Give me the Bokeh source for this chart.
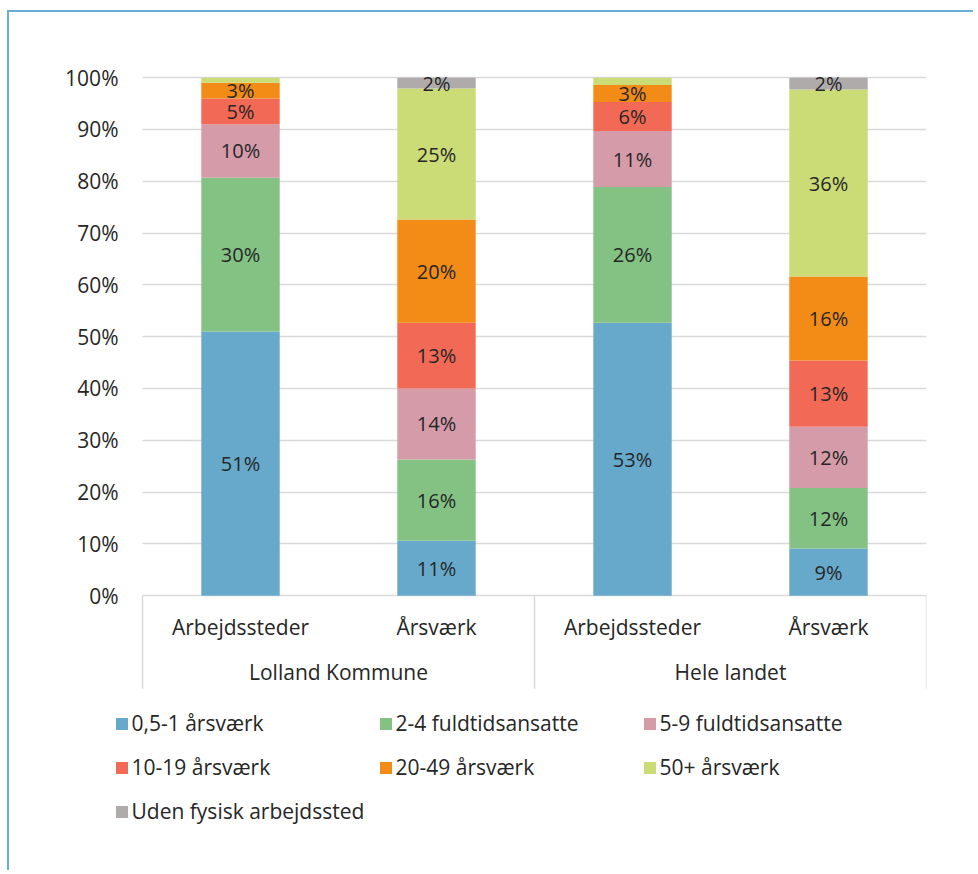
from bokeh.plotting import figure
from bokeh.models import (ColumnDataSource, Range1d, LinearAxis, FixedTicker, Grid,
                          Legend, LegendItem)
from bokeh.core.properties import value
from bokeh.embed import file_html
from bokeh.resources import INLINE

# ---------------- data ----------------
groups = ["Lolland Kommune", "Hele landet"]
measures = ["Arbejdssteder", "Årsværk"]
series = ["0,5-1 årsværk", "2-4 fuldtidsansatte", "5-9 fuldtidsansatte",
          "10-19 årsværk", "20-49 årsværk", "50+ årsværk", "Uden fysisk arbejdssted"]
colors = ["#67a9cb", "#84c284", "#d59ba9", "#f26a55", "#f28c16", "#cbdb76", "#afabab"]

# percent shares per bar: Lolland/Arbejdssteder, Lolland/Årsværk, Hele/Arbejdssteder, Hele/Årsværk
v_05_1 = [51.0, 10.6, 52.7, 9.1]
v_2_4 = [29.7, 15.7, 26.2, 11.7]
v_5_9 = [10.3, 13.7, 10.8, 11.8]
v_10_19 = [5.0, 12.7, 5.6, 12.8]
v_20_49 = [3.0, 19.9, 3.3, 16.2]
v_50 = [1.0, 25.3, 1.4, 36.1]
v_uden = [0.0, 2.1, 0.0, 2.3]
series_values = [v_05_1, v_2_4, v_5_9, v_10_19, v_20_49, v_50, v_uden]

y_ticks = [0, 10, 20, 30, 40, 50, 60, 70, 80, 90, 100]
y_tick_labels = ["0%", "10%", "20%", "30%", "40%", "50%", "60%", "70%", "80%", "90%", "100%"]

# ---------------- layout constants (canvas pixels) ----------------
W, H = 966, 860
FRAME_L, FRAME_R, FRAME_T, FRAME_B = 91, 917, 60, 860
PLOT_L = 133                 # pixel of the category axis start (x = 0)
PX_PER_CAT = (FRAME_R - PLOT_L) / 4.0
PX_PER_PCT = 5.18
Y_END = 101.0
Y_START = Y_END - (FRAME_B - FRAME_T) / PX_PER_PCT
X_START = -(PLOT_L - FRAME_L) / PX_PER_CAT
YLABEL_RIGHT = 109    # right edge of the y tick labels
SUB_BASE_PX = 31      # baseline of sub-category labels below the 0% line
GRP_BASE_PX = 76      # baseline of group labels below the 0% line
SEP_PX = 93           # length of the group separator lines

FONT = "Open Sans"
TXT = "#262626"
GRID = "#d9d9d9"

# ---------------- derived ----------------
bar_names = [m for g in groups for m in measures]
n_bars = len(bar_names)
bar_x = [i + 0.5 for i in range(n_bars)]
per_group = len(measures)
group_x = [sum(bar_x[k * per_group:(k + 1) * per_group]) / per_group for k in range(len(groups))]
sep_x = [float(k * per_group) for k in range(len(groups) + 1)]

data = {"x": bar_x}
for name, vals in zip(series, series_values):
    data[name] = vals
src = ColumnDataSource(data)

p = figure(width=W, height=H, output_backend="svg", toolbar_location=None,
           x_range=Range1d(X_START, n_bars), y_range=Range1d(Y_START, Y_END),
           x_axis_type=None, y_axis_type=None,
           min_border_left=FRAME_L, min_border_right=W - FRAME_R,
           min_border_top=FRAME_T, min_border_bottom=H - FRAME_B)
p.outline_line_color = None
p.background_fill_color = "white"
p.border_fill_color = "white"
p.styles = {"margin-left": "7px", "margin-top": "10px",
            "border-left": "2px solid #6aaed6", "border-top": "2px solid #6aaed6"}

p.add_layout(Grid(dimension=1, ticker=FixedTicker(ticks=y_ticks), cross_bounds=(0, n_bars),
                  grid_line_color=GRID, grid_line_width=1.5))

renderers = p.vbar_stack(series, x="x", width=0.4, color=colors, line_color=None, source=src)

# data labels
lx, ly, lt = [], [], []
for i in range(n_bars):
    bottom = 0.0
    for vals in series_values:
        v = vals[i]
        if v >= 1.5:
            lx.append(bar_x[i])
            ly.append(bottom + v / 2)
            lt.append(f"{round(v)}%")
        bottom += v
p.text(x="x", y="y", text="t", source=ColumnDataSource(dict(x=lx, y=ly, t=lt)),
       text_align="center", text_baseline="middle", text_color=TXT,
       text_font=value(FONT), text_font_size="20px")

# y axis
yaxis = LinearAxis(ticker=FixedTicker(ticks=y_ticks),
                   major_label_overrides=dict(zip(y_ticks, y_tick_labels)),
                   axis_line_color=None, major_tick_line_color=None, minor_tick_line_color=None,
                   major_tick_out=0, major_tick_in=0,
                   major_label_standoff=FRAME_L - YLABEL_RIGHT,
                   major_label_text_font=FONT, major_label_text_font_size="21px",
                   major_label_text_color=TXT)
p.add_layout(yaxis, "left")

# category axis: group separators + two label rows
sep_len = SEP_PX / PX_PER_PCT
p.segment(x0=sep_x, y0=[0] * len(sep_x), x1=sep_x, y1=[-sep_len] * len(sep_x),
          line_color=GRID, line_width=1.5)
p.text(x=bar_x, y=[-SUB_BASE_PX / PX_PER_PCT] * n_bars, text=bar_names,
       text_align="center", text_baseline="alphabetic", text_color=TXT,
       text_font=value(FONT), text_font_size="21px")
p.text(x=group_x, y=[-GRP_BASE_PX / PX_PER_PCT] * len(groups), text=groups,
       text_align="center", text_baseline="alphabetic", text_color=TXT,
       text_font=value(FONT), text_font_size="21px")

# legend (3 columns, uniform column width)
LEG_GLYPH = 15
LEG_ROW_H = 35
LEG_SPACING = 9
leg_rows = -(-len(series) // 3)
leg_h = leg_rows * LEG_ROW_H + (leg_rows - 1) * LEG_SPACING
LEG_LEFT = 104.5
LEG_TOP = 693.5
legend = Legend(items=[LegendItem(label=s, renderers=[r]) for s, r in zip(series, renderers)],
                ncols=3, orientation="horizontal",
                location=(LEG_LEFT - FRAME_L, FRAME_B - (LEG_TOP + leg_h)),
                glyph_width=LEG_GLYPH, glyph_height=LEG_GLYPH, label_standoff=3,
                label_width=237, label_height=LEG_ROW_H, spacing=LEG_SPACING,
                padding=0, margin=0, border_line_color=None,
                background_fill_alpha=0,
                label_text_font=FONT, label_text_font_size="21px", label_text_color=TXT)
p.add_layout(legend, "center")

open("out.html", "w").write(file_html(p, INLINE))
